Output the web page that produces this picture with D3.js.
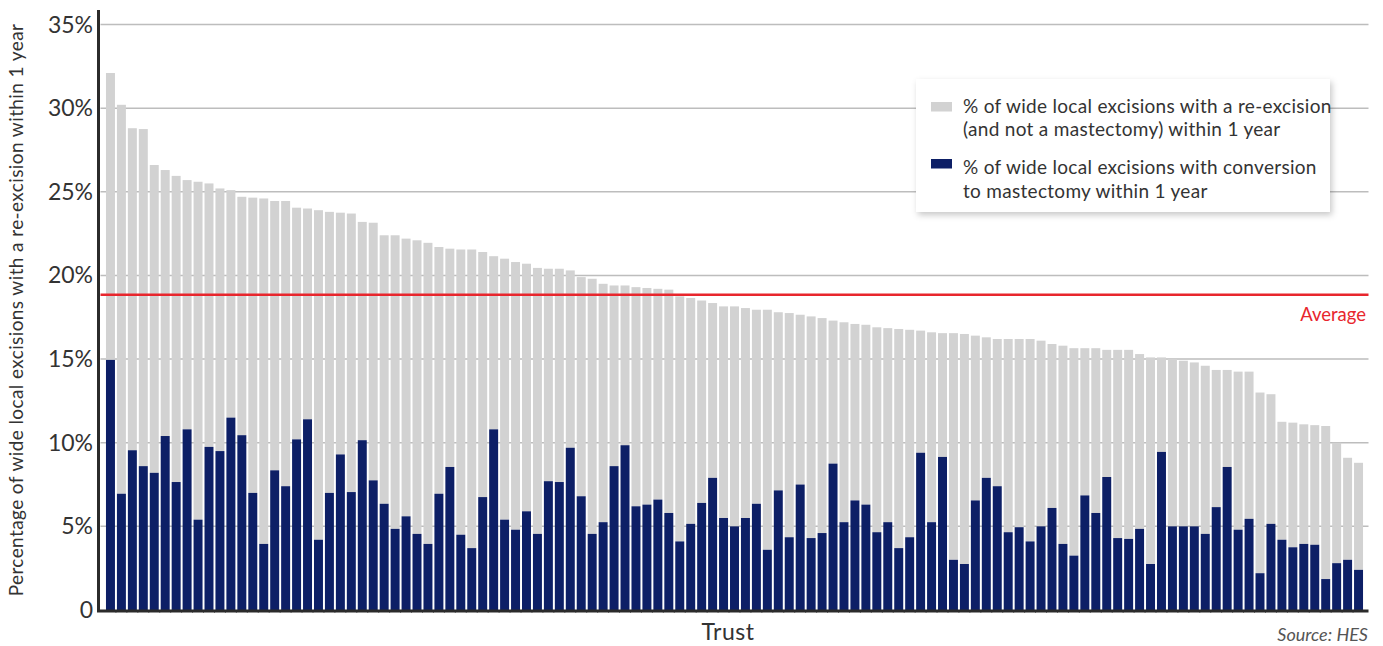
<!DOCTYPE html>
<html>
<head>
<meta charset="utf-8">
<script src="https://cdn.jsdelivr.net/npm/d3@7"></script>
<style>
  html, body { margin: 0; padding: 0; background: #fff; }
  svg { display: block; font-family: Lato, "Open Sans", sans-serif; }
</style>
</head>
<body>
<svg id="chart" width="1383" height="646"></svg>
<script>
// % of WLEs with any re-excision within 1 year (top of each stacked bar)
const reexcisionTotal = [
  32.1, 30.2, 28.8, 28.75, 26.6, 26.3, 25.95, 25.7, 25.6, 25.5,
  25.2, 25.1, 24.7, 24.65, 24.6, 24.45, 24.45, 24.05, 24.0, 23.9,
  23.8, 23.75, 23.7, 23.2, 23.15, 22.4, 22.4, 22.2, 22.1, 21.95,
  21.7, 21.6, 21.55, 21.55, 21.4, 21.15, 21.0, 20.8, 20.7, 20.45,
  20.4, 20.4, 20.3, 19.9, 19.8, 19.5, 19.4, 19.4, 19.3, 19.25,
  19.2, 19.15, 18.75, 18.65, 18.5, 18.35, 18.15, 18.15, 18.05, 17.95,
  17.95, 17.8, 17.75, 17.65, 17.55, 17.45, 17.3, 17.2, 17.1, 17.05,
  16.9, 16.85, 16.8, 16.75, 16.7, 16.6, 16.55, 16.55, 16.5, 16.4,
  16.3, 16.2, 16.2, 16.2, 16.2, 16.1, 15.9, 15.8, 15.65, 15.65,
  15.65, 15.55, 15.55, 15.55, 15.3, 15.1, 15.1, 15.0, 14.9, 14.8,
  14.6, 14.35, 14.35, 14.25, 14.25, 13.0, 12.9, 11.25, 11.2, 11.1,
  11.05, 11.0, 10.0, 9.1, 8.8
];
// % of WLEs with conversion to mastectomy within 1 year (navy part)
const mastectomy = [
  14.95, 6.95, 9.55, 8.6, 8.2, 10.4, 7.65, 10.8, 5.4, 9.75,
  9.5, 11.5, 10.45, 7.0, 3.95, 8.35, 7.4, 10.2, 11.4, 4.2,
  7.0, 9.3, 7.05, 10.15, 7.75, 6.35, 4.85, 5.6, 4.55, 3.95,
  6.95, 8.55, 4.5, 3.7, 6.75, 10.8, 5.4, 4.8, 5.9, 4.55,
  7.7, 7.65, 9.7, 6.8, 4.55, 5.25, 8.6, 9.85, 6.2, 6.3,
  6.6, 5.8, 4.1, 5.15, 6.4, 7.9, 5.5, 5.0, 5.5, 6.35,
  3.6, 7.15, 4.35, 7.5, 4.3, 4.6, 8.75, 5.25, 6.55, 6.3,
  4.65, 5.25, 3.7, 4.35, 9.4, 5.25, 9.15, 3.0, 2.75, 6.55,
  7.9, 7.4, 4.65, 4.95, 4.1, 5.0, 6.1, 3.95, 3.25, 6.85,
  5.8, 7.95, 4.3, 4.25, 4.85, 2.75, 9.45, 5.0, 5.0, 5.0,
  4.55, 6.15, 8.55, 4.8, 5.45, 2.2, 5.15, 4.2, 3.75, 3.95,
  3.9, 1.85, 2.8, 3.0, 2.4
];
const trusts = reexcisionTotal.map((_, i) => "Trust " + (i + 1));
const averageValue = 18.85;
const yTicks = [0, 5, 10, 15, 20, 25, 30, 35];
const legendLabels = [
  ["% of wide local excisions with a re-excision", "(and not a mastectomy) within 1 year"],
  ["% of wide local excisions with conversion", "to mastectomy within 1 year"]
];

(function () {
const colGrey = "#d2d2d2", colNavy = "#0d1f66", colRed = "#e8262d", colText = "#333";

const svg = d3.select("#chart");
const pLeft = 100.5, pRight = 1368.5, pBottom = 610, pTop = 24.5;

const x = d3.scaleBand().domain(trusts).range([pLeft, pRight]).paddingInner(0.18).paddingOuter(0.5);
const y = d3.scaleLinear().domain([0, 35]).range([pBottom, pTop]);

// gridlines
svg.append("g").selectAll("line").data(yTicks.filter(d => d > 0)).join("line")
  .attr("x1", pLeft).attr("x2", pRight)
  .attr("y1", d => y(d)).attr("y2", d => y(d))
  .attr("stroke", "#bdbdbd").attr("stroke-width", 1.5);

// bars
const data = trusts.map((t, i) => ({ t, total: reexcisionTotal[i], mast: mastectomy[i] }));
svg.append("g").selectAll("rect").data(data).join("rect")
  .attr("x", d => x(d.t)).attr("width", x.bandwidth())
  .attr("y", d => y(d.total)).attr("height", d => y(d.mast) - y(d.total))
  .attr("fill", colGrey);
svg.append("g").selectAll("rect").data(data).join("rect")
  .attr("x", d => x(d.t)).attr("width", x.bandwidth())
  .attr("y", d => y(d.mast)).attr("height", d => y(0) - y(d.mast))
  .attr("fill", colNavy);

// average line
svg.append("line")
  .attr("x1", pLeft).attr("x2", pRight)
  .attr("y1", y(averageValue)).attr("y2", y(averageValue))
  .attr("stroke", colRed).attr("stroke-width", 2.5);
svg.append("text").attr("x", 1366).attr("y", y(averageValue) + 26)
  .attr("text-anchor", "end").attr("fill", colRed).attr("font-size", 18.5).text("Average");

// x axis small ticks
svg.append("g").selectAll("line").data(trusts.slice(1)).join("line")
  .attr("x1", d => x(d) - x.step() * 0.09).attr("x2", d => x(d) - x.step() * 0.09)
  .attr("y1", pBottom).attr("y2", pBottom + 3)
  .attr("stroke", "#888").attr("stroke-width", 1);

// axes lines
svg.append("line").attr("x1", 98.5).attr("x2", 98.5).attr("y1", 10).attr("y2", 612)
  .attr("stroke", "#2b2b2b").attr("stroke-width", 3);
svg.append("line").attr("x1", 97).attr("x2", pRight).attr("y1", 611).attr("y2", 611)
  .attr("stroke", "#2b2b2b").attr("stroke-width", 3);

// y tick labels
svg.append("g").selectAll("text").data(yTicks).join("text")
  .attr("x", 93).attr("y", d => y(d) + 8)
  .attr("text-anchor", "end").attr("fill", colText).attr("font-size", 23)
  .text(d => d === 0 ? "0" : d + "%");

// axis titles
svg.append("text").attr("transform", "translate(23,310) rotate(-90)")
  .attr("text-anchor", "middle").attr("fill", colText).attr("font-size", 19)
  .attr("letter-spacing", 0.4)
  .text("Percentage of wide local excisions with a re-excision within 1 year");
svg.append("text").attr("x", 728).attr("y", 640).attr("text-anchor", "middle")
  .attr("fill", colText).attr("font-size", 23).attr("letter-spacing", 0.5).text("Trust");
svg.append("text").attr("x", 1368).attr("y", 641).attr("text-anchor", "end")
  .attr("fill", "#555").attr("font-size", 18).attr("font-style", "italic").text("Source: HES");

// legend
const defs = svg.append("defs");
const f = defs.append("filter").attr("id", "shadow").attr("x", "-10%").attr("y", "-20%").attr("width", "130%").attr("height", "150%");
f.append("feDropShadow").attr("dx", 2).attr("dy", 3).attr("stdDeviation", 3).attr("flood-color", "#000").attr("flood-opacity", 0.22);
const lg = svg.append("g").attr("transform", "translate(916,79)");
lg.append("rect").attr("width", 414).attr("height", 133).attr("fill", "#fff").attr("filter", "url(#shadow)");
const swatchCols = [colGrey, colNavy];
const swatchY = [23, 80];
const textY = [[34, 57], [95, 119]];
legendLabels.forEach((lines, i) => {
  lg.append("rect").attr("x", 15).attr("y", swatchY[i]).attr("width", 21).attr("height", 9.5).attr("fill", swatchCols[i]);
  lines.forEach((ln, j) => {
    lg.append("text").attr("x", 47).attr("y", textY[i][j])
      .attr("fill", colText).attr("font-size", 19).attr("letter-spacing", 0.3).text(ln);
  });
});
})();
</script>
</body>
</html>
